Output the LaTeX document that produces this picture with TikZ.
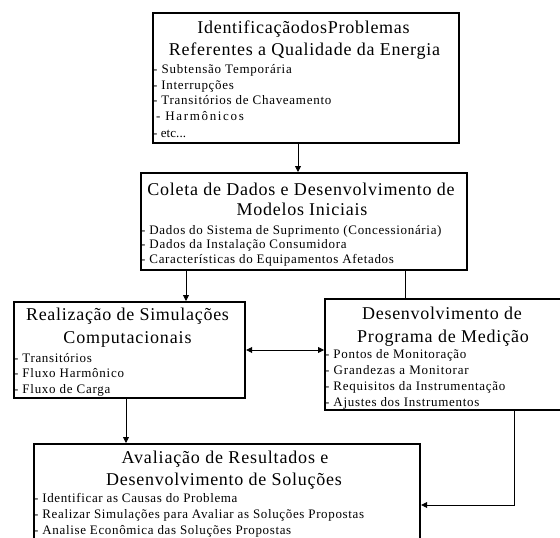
\documentclass[tikz,border=0pt]{standalone}
\usepackage{fontspec}
\usepackage{xstring}
\setmainfont{Liberation Serif}
\usetikzlibrary{arrows.meta}
\makeatletter
\newcommand\fitline[2]{%
  \setbox0\hbox{#2}%
  \StrLen{#2}[\nchars]%
  \pgfmathsetmacro\lspc{100*(#1-\the\wd0)/(\nchars*\f@size)}%
  {\addfontfeature{LetterSpace=\lspc}#2}}
\makeatother
\begin{document}
\begin{tikzpicture}[x=1pt,y=-1pt,
  box/.style={draw,line width=2.2pt,inner sep=0pt,anchor=north west,rectangle},
  ttl/.style={anchor=base,inner sep=0pt,font=\fontsize{18}{21}\selectfont},
  itm/.style={anchor=base west,inner sep=0pt,font=\fontsize{13}{15}\selectfont},
  ln/.style={line width=0.8pt},
  arr/.style={ln,-{Triangle[length=6pt,width=6pt]}},
  darr/.style={ln,{Triangle[length=6pt,width=6pt]}-{Triangle[length=6pt,width=6pt]}}]
\useasboundingbox (0,0) rectangle (560,538);
\clip (0,0) rectangle (560,538);
% boxes
\node[box,minimum width=306pt,minimum height=130pt] (b1) at (152,12) {};
\node[box,minimum width=326pt,minimum height=97pt] (b2) at (140,172) {};
\node[box,minimum width=231pt,minimum height=96pt] (b3) at (13,301) {};
\node[box,minimum width=246pt,minimum height=111pt] (b4) at (324,298) {};
\node[box,minimum width=386pt,minimum height=117pt] (b5) at (33,443) {};
% box 1 text
\node[ttl] (t11) at (303.5,33) {\fitline{213}{IdentificaçãodosProblemas}};
\node[ttl] (t12) at (304.5,55) {\fitline{275}{Referentes a Qualidade da Energia}};
\node[itm] (i11) at (153,73) {\fitline{141}{- Subtensão Temporária}};
\node[itm] (i12) at (153,89) {\fitline{82}{- Interrupções}};
\node[itm] (i13) at (153,104) {\fitline{181}{- Transitórios de Chaveamento}};
\node[itm] (i14) at (156,120) {\fitline{91}{- Harmônicos}};
\node[itm] (i15) at (153,137) {\fitline{33}{- etc...}};
% box 2 text
\node[ttl] (t21) at (301,195) {\fitline{312}{Coleta de Dados e Desenvolvimento de}};
\node[ttl] (t22) at (302,215) {\fitline{132}{Modelos Iniciais}};
\node[itm] (i21) at (141,234) {\fitline{305}{- Dados do Sistema de Suprimento (Concessionária)}};
\node[itm] (i22) at (141,248) {\fitline{209}{- Dados da Instalação Consumidora}};
\node[itm] (i23) at (141,263) {\fitline{256}{- Características do Equipamentos Afetados}};
% box 3 text
\node[ttl] (t31) at (127.5,320) {\fitline{205}{Realização de Simulações}};
\node[ttl] (t32) at (127.5,343) {\fitline{129}{Computacionais}};
\node[itm] (i31) at (14,362) {\fitline{79}{- Transitórios}};
\node[itm] (i32) at (14,377) {\fitline{112}{- Fluxo Harmônico}};
\node[itm] (i33) at (14,393) {\fitline{99}{- Fluxo de Carga}};
% box 4 text
\node[ttl] (t41) at (442,319) {\fitline{161}{Desenvolvimento de}};
\node[ttl] (t42) at (443,342) {\fitline{174}{Programa de Medição}};
\node[itm] (i41) at (325,358) {\fitline{144}{- Pontos de Monitoração}};
\node[itm] (i42) at (325,374) {\fitline{147}{- Grandezas a Monitorar}};
\node[itm] (i43) at (325,390) {\fitline{183}{- Requisitos da Instrumentação}};
\node[itm] (i44) at (325,406) {\fitline{157}{- Ajustes dos Instrumentos}};
% box 5 text
\node[ttl] (t51) at (225,463) {\fitline{210}{Avaliação de Resultados e}};
\node[ttl] (t52) at (224,485) {\fitline{238}{Desenvolvimento de Soluções}};
\node[itm] (i51) at (34,502) {\fitline{207}{- Identificar as Causas do Problema}};
\node[itm] (i52) at (34,518) {\fitline{335}{- Realizar Simulações para Avaliar as Soluções Propostas}};
\node[itm] (i53) at (34,534) {\fitline{261}{- Analise Econômica das Soluções Propostas}};
% connector guides
\coordinate (x1) at (298,0);
\coordinate (x2) at (186,0);
\coordinate (x3) at (405,0);
\coordinate (x4) at (126,0);
\coordinate (x5) at (514,0);
\coordinate (y1) at (0,350);
\coordinate (y2) at (0,505);
% connectors
\draw[arr] (b1.south -| x1) -- (b2.north -| x1);
\draw[arr] (b2.south -| x2) -- (b3.north -| x2);
\draw[ln] (b2.south -| x3) -- (b4.north -| x3);
\draw[darr] (b3.east |- y1) -- (b4.west |- y1);
\draw[arr] (b3.south -| x4) -- (b5.north -| x4);
\draw[arr] (b4.south -| x5) |- (b5.east |- y2);
\end{tikzpicture}
\end{document}
